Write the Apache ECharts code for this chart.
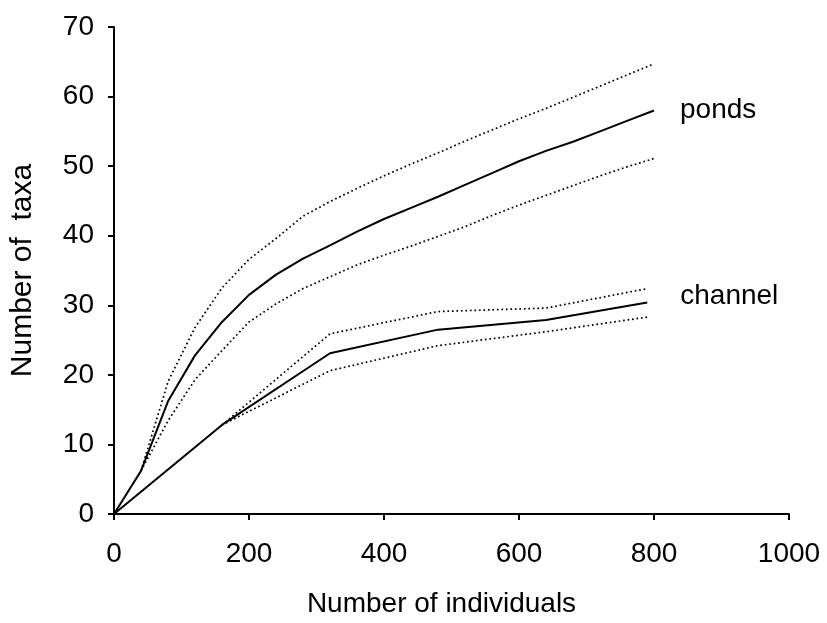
<!DOCTYPE html>
<html>
<head>
<meta charset="utf-8">
<script src="https://cdn.jsdelivr.net/npm/echarts@6/dist/echarts.min.js"></script>
<style>
html,body{margin:0;padding:0;background:#fff;}
#chart{width:827px;height:623px;}
</style>
</head>
<body>
<div id="chart"></div>
<script>
// Data
const pondsX = [0,40,80,120,160,200,240,280,320,360,400,440,480,520,560,600,640,680,720,760,800];
const pondsMean  = [0,6.2,16.2,22.8,27.6,31.5,34.4,36.7,38.6,40.6,42.4,44.0,45.6,47.3,49.0,50.7,52.2,53.5,55.0,56.5,58.0];
const pondsUpper = [null,6.2,19.0,26.8,32.5,36.6,39.6,42.8,44.9,46.8,48.6,50.3,51.9,53.6,55.2,56.8,58.3,59.9,61.5,63.1,64.7];
const pondsLower = [null,6.2,13.4,19.3,23.5,27.6,30.2,32.4,34.1,35.8,37.2,38.5,39.9,41.3,42.9,44.4,45.8,47.2,48.6,49.9,51.1];

const channelX = [0,160,320,480,640,790];
const channelMean  = [0,12.8,23.1,26.5,27.9,30.4];
const channelUpper = [null,12.8,25.9,29.1,29.6,32.4];
const channelLower = [null,12.8,20.6,24.2,26.2,28.3];

const xTicks = [0,200,400,600,800,1000];
const yTicks = [0,10,20,30,40,50,60,70];

function pairs(xs, ys){ return xs.map((x,i)=>[x, ys[i]]); }

const FONT = '"Liberation Sans", Arial, Helvetica, sans-serif';
const solid = {color:'#000', width:2, type:'solid'};
const dotted = {color:'#000', width:1.7, type:[1.7,2.8]};

const chart = echarts.init(document.getElementById('chart'), null, {renderer:'canvas'});
chart.setOption({
  animation:false,
  backgroundColor:'#fff',
  grid:{left:113, right:38, top:27, bottom:106, containLabel:false},
  xAxis:{
    type:'value', min:xTicks[0], max:xTicks[xTicks.length-1], interval:200,
    name:'Number of individuals', nameLocation:'middle', nameGap:76,
    nameTextStyle:{fontFamily:FONT, fontSize:28, color:'#000', padding:[0,20,0,0]},
    axisLine:{show:true, onZero:false, lineStyle:{color:'#000', width:2}},
    axisTick:{show:true, inside:false, length:6, lineStyle:{color:'#000', width:2}},
    axisLabel:{fontFamily:FONT, fontSize:28, color:'#000', margin:26, formatter:function(v){return String(v);}},
    splitLine:{show:false}
  },
  yAxis:{
    type:'value', min:yTicks[0], max:yTicks[yTicks.length-1], interval:10,
    name:'Number of  taxa', nameLocation:'middle', nameGap:76, nameRotate:90,
    nameTextStyle:{fontFamily:FONT, fontSize:30, color:'#000'},
    axisLine:{show:true, onZero:false, lineStyle:{color:'#000', width:2}},
    axisTick:{show:true, inside:false, length:6, lineStyle:{color:'#000', width:2}},
    axisLabel:{fontFamily:FONT, fontSize:28, color:'#000', margin:20},
    splitLine:{show:false}
  },
  series:[
    {type:'line', name:'ponds', data:pairs(pondsX,pondsMean), showSymbol:false, lineStyle:solid,
     endLabel:{show:true, formatter:'ponds', fontFamily:FONT, fontSize:28, color:'#000', distance:26}},
    {type:'line', data:pairs(pondsX,pondsUpper), showSymbol:false, lineStyle:dotted},
    {type:'line', data:pairs(pondsX,pondsLower), showSymbol:false, lineStyle:dotted},
    {type:'line', name:'channel', data:pairs(channelX,channelMean), showSymbol:false, lineStyle:solid,
     endLabel:{show:true, formatter:'channel', fontFamily:FONT, fontSize:28, color:'#000', distance:33, offset:[0,-6]}},
    {type:'line', data:pairs(channelX,channelUpper), showSymbol:false, lineStyle:dotted},
    {type:'line', data:pairs(channelX,channelLower), showSymbol:false, lineStyle:dotted}
  ]
});
</script>
</body>
</html>
